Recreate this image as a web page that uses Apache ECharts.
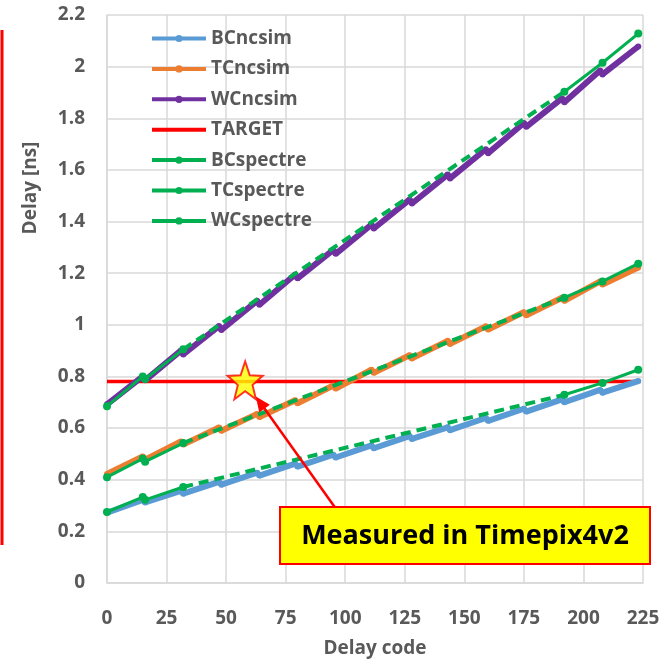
<!DOCTYPE html>
<html><head><meta charset="utf-8">
<script src="https://cdn.jsdelivr.net/npm/echarts@6/dist/echarts.min.js"></script>
<style>html,body{margin:0;padding:0;background:#fff}#c{width:663px;height:659px}</style>
</head><body><div id="c"></div>
<script>
// ---- data ----
const ncsimCodes = [0,15,16,31,32,47,48,63,64,79,80,95,96,111,112,127,128,143,144,159,160,175,176,191,192,207,208,223];
const bcNcsim = [0.272,0.322,0.312,0.357,0.346,0.392,0.381,0.427,0.416,0.462,0.451,0.497,0.486,0.533,0.522,0.569,0.558,0.603,0.592,0.639,0.628,0.675,0.664,0.711,0.700,0.748,0.737,0.782];
const tcNcsim = [0.422,0.490,0.478,0.548,0.536,0.602,0.590,0.655,0.643,0.708,0.696,0.765,0.753,0.826,0.814,0.882,0.870,0.938,0.926,0.994,0.982,1.049,1.037,1.105,1.093,1.168,1.156,1.222];
const wcNcsim = [0.692,0.800,0.785,0.900,0.885,0.995,0.980,1.093,1.078,1.195,1.180,1.290,1.275,1.388,1.373,1.485,1.470,1.582,1.567,1.680,1.665,1.782,1.767,1.877,1.862,1.985,1.970,2.078];

const spectreStartCodes = [0,15,16,32];
const spectreDashCodes = [32,192];
const spectreEndCodes = [192,208,223];
const bcSpectreStart = [0.275,0.333,0.322,0.372];
const bcSpectreDash  = [0.372,0.729];
const bcSpectreEnd   = [0.729,0.775,0.826];
const tcSpectreStart = [0.410,0.482,0.470,0.542];
const tcSpectreDash  = [0.542,1.105];
const tcSpectreEnd   = [1.105,1.168,1.237];
const wcSpectreStart = [0.685,0.800,0.790,0.905];
const wcSpectreDash  = [0.905,1.903];
const wcSpectreEnd   = [1.903,2.015,2.128];

const targetCodes = [0,224];
const targetValues = [0.78,0.78];

const starPoint = [58, 0.785];
const arrowFrom = [95.5, 0.295];
const arrowHead = [64.3, 0.699];

const xAxisRange = {min:0, max:225, interval:25};
const yAxisRange = {min:0, max:2.2, interval:0.2};

const legendNames = ['BCncsim','TCncsim','WCncsim','TARGET','BCspectre','TCspectre','WCspectre'];
const boxText = 'Measured in Timepix4v2';

// ---- build ----
const zip = (xs, ys) => xs.map((x,i)=>[x, ys[i]]);
const solidWithGap = (xs1, ys1, xs2, ys2) => zip(xs1, ys1).concat([[112,'-']]).concat(zip(xs2, ys2));

const C = {blue:'#5B9BD5', orange:'#ED7D31', purple:'#7030A0', red:'#FF0000', green:'#00B050'};
const FONT = 'Open Sans';
const TXT = '#595959';

function ncsim(name, ys, color){
  return {name, type:'line', data: zip(ncsimCodes, ys), symbol:'circle', symbolSize:6, showSymbol:true,
    lineStyle:{color, width:6}, itemStyle:{color}, z:3};
}
function spectreSolid(name, s, e){
  return {name, type:'line', data: solidWithGap(spectreStartCodes, s, spectreEndCodes, e), connectNulls:false,
    symbol:'circle', symbolSize:8, lineStyle:{color:C.green, width:3}, itemStyle:{color:C.green}, z:5};
}
function spectreDash(name, d){
  return {name, type:'line', data: zip(spectreDashCodes, d), symbol:'none',
    lineStyle:{color:C.green, width:4, type:[10,6]}, itemStyle:{color:C.green}, z:4};
}

const starPath = 'path://M50 0 L62.34 33.01 L97.55 34.55 L69.97 56.49 L79.39 90.45 L50 71 L20.61 90.45 L30.03 56.49 L2.45 34.55 L37.66 33.01 Z';

const legendData = legendNames.map(n => n === 'TARGET' ? {name:n, itemStyle:{opacity:0}} : {name:n});

const option = {
  animation:false,
  backgroundColor:'#fff',
  textStyle:{fontFamily:FONT},
  grid:{left:107, right:20, top:15, bottom:76, outerBoundsMode:'none', containLabel:false},
  legend:{
    data: legendData, orient:'vertical', left:145, top:24,
    itemWidth:54, itemHeight:9, itemGap:11.4,
    lineStyle:{width:4},
    textStyle:{fontFamily:FONT, fontSize:19, fontWeight:'bold', color:TXT}
  },
  xAxis:{type:'value', min:xAxisRange.min, max:xAxisRange.max, interval:xAxisRange.interval,
    name:'Delay code', nameLocation:'middle', nameGap:56,
    nameTextStyle:{fontFamily:FONT, fontSize:19, fontWeight:'bold', color:TXT},
    axisLine:{lineStyle:{color:'#D9D9D9', width:1.5}}, axisTick:{show:false},
    axisLabel:{margin:26, fontFamily:FONT, fontSize:19, fontWeight:'bold', color:TXT},
    splitLine:{show:true, lineStyle:{color:'#D9D9D9', width:1.5}}},
  yAxis:{type:'value', min:yAxisRange.min, max:yAxisRange.max, interval:yAxisRange.interval,
    axisLine:{show:true, lineStyle:{color:'#D9D9D9', width:1.5}}, axisTick:{show:false},
    axisLabel:{margin:22, fontFamily:FONT, fontSize:19, fontWeight:'bold', color:TXT,
      formatter:v=>String(Number(v.toFixed(1)))},
    splitLine:{show:true, lineStyle:{color:'#D9D9D9', width:1.5}}},
  series:[
    {name:'TARGET', type:'line', data: zip(targetCodes, targetValues), symbol:'none', showSymbol:false,
      lineStyle:{color:C.red, width:3.5}, itemStyle:{color:C.red}, z:2},
    ncsim('BCncsim', bcNcsim, C.blue),
    ncsim('TCncsim', tcNcsim, C.orange),
    ncsim('WCncsim', wcNcsim, C.purple),
    spectreDash('BCspectre-dash', bcSpectreDash),
    spectreDash('TCspectre-dash', tcSpectreDash),
    spectreDash('WCspectre-dash', wcSpectreDash),
    spectreSolid('BCspectre', bcSpectreStart, bcSpectreEnd),
    spectreSolid('TCspectre', tcSpectreStart, tcSpectreEnd),
    spectreSolid('WCspectre', wcSpectreStart, wcSpectreEnd),
    {name:'arrow', type:'line', silent:true, z:12,
      data:[{value:arrowFrom, symbol:'none'}, {value:arrowHead, symbol:'triangle', symbolSize:[13,15], symbolRotate:36}],
      showSymbol:true, lineStyle:{color:C.red, width:2.5}, itemStyle:{color:C.red}},
    {name:'annotation', type:'scatter', data:[starPoint], symbol:starPath, symbolSize:[35,38],
      itemStyle:{color:'#FFFF00', borderColor:C.red, borderWidth:2}, z:11, silent:true}
  ],
  graphic:[
    {type:'line', shape:{x1:2, y1:30, x2:2, y2:545}, style:{stroke:C.red, lineWidth:3}, z:1},
    {type:'text', x:31, y:188, rotation:Math.PI/2, style:{text:'Delay [ns]', fontFamily:FONT, fontSize:19, fontWeight:'bold',
      fill:TXT, align:'center', verticalAlign:'middle'}},
    {type:'rect', shape:{x:280, y:507, width:370, height:57}, style:{fill:'#FFFF00', stroke:C.red, lineWidth:2}, z:20},
    {type:'text', x:465, y:536, style:{text:boxText, fontFamily:FONT, fontSize:27, fontWeight:'bold', fill:'#000',
      align:'center', verticalAlign:'middle'}, z:21}
  ]
};
const chart = echarts.init(document.getElementById('c'), null, {renderer:'canvas'});
chart.setOption(option);
</script></body></html>
